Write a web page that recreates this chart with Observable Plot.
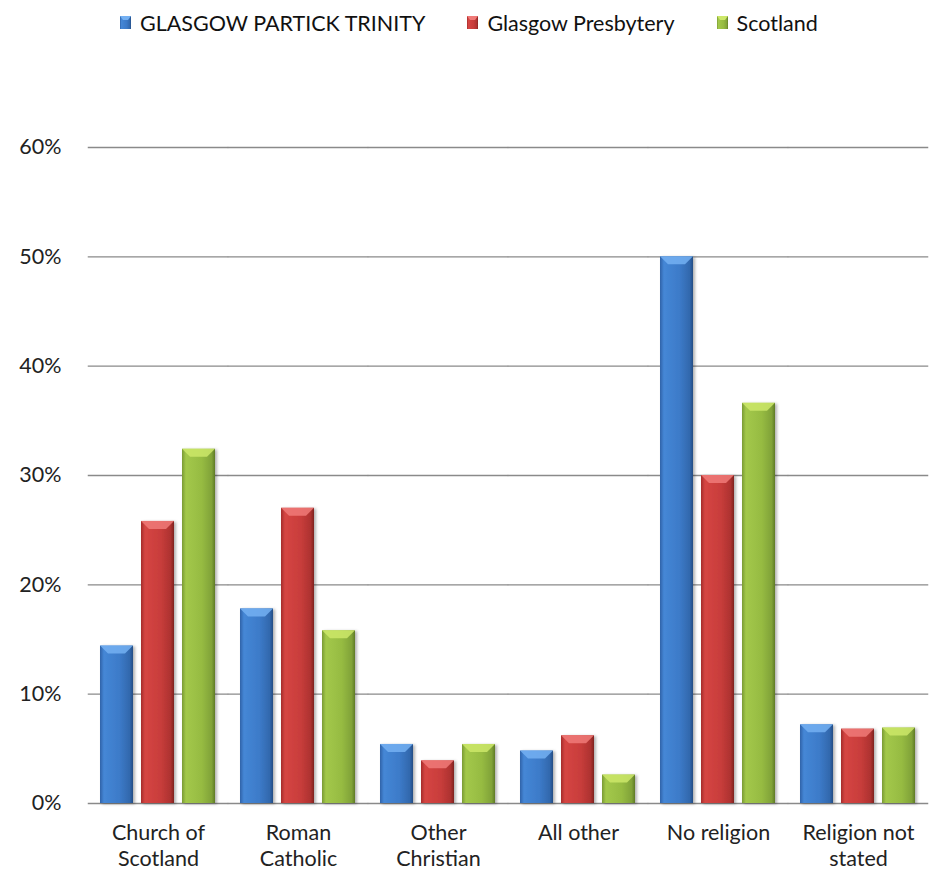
<!DOCTYPE html>
<html>
<head>
<meta charset="utf-8">
<script src="https://cdn.jsdelivr.net/npm/d3@7"></script>
<script src="https://cdn.jsdelivr.net/npm/@observablehq/plot@0.6"></script>
<style>
  body { margin: 0; background: #fff; font-family: Lato, "Open Sans", sans-serif; }
  #legend { height: 45px; display: flex; justify-content: flex-start; align-items: center; font-size: 21.5px; color: #111; padding-left: 120px; }
  .item { display: flex; align-items: center; margin-right: 42px; }
  .item svg { margin-right: 9px; }
</style>
</head>
<body>
<svg width="0" height="0" style="position:absolute">
  <defs>
    <linearGradient id="g0" x1="0" x2="1" y1="0" y2="0">
      <stop offset="0" stop-color="#2f62a8"/>
      <stop offset="0.12" stop-color="#4587d6"/>
      <stop offset="0.6" stop-color="#3c7ac8"/>
      <stop offset="0.9" stop-color="#3268ad"/>
      <stop offset="1" stop-color="#234d84"/>
    </linearGradient>
    <linearGradient id="g1" x1="0" x2="1" y1="0" y2="0">
      <stop offset="0" stop-color="#a42c2a"/>
      <stop offset="0.12" stop-color="#d54543"/>
      <stop offset="0.6" stop-color="#c83d3b"/>
      <stop offset="0.9" stop-color="#ad3230"/>
      <stop offset="1" stop-color="#7e2220"/>
    </linearGradient>
    <linearGradient id="g2" x1="0" x2="1" y1="0" y2="0">
      <stop offset="0" stop-color="#7a9a34"/>
      <stop offset="0.12" stop-color="#a3c84a"/>
      <stop offset="0.6" stop-color="#96bb42"/>
      <stop offset="0.9" stop-color="#80a238"/>
      <stop offset="1" stop-color="#5e7a26"/>
    </linearGradient>
    <filter id="shadow" x="-20%" y="-5%" width="150%" height="115%">
      <feDropShadow dx="2" dy="1" stdDeviation="1.5" flood-color="#000" flood-opacity="0.3"/>
    </filter>
  </defs>
</svg>
<div id="legend"></div>
<div id="chart"></div>
<script>
const categories = ["Church of\nScotland", "Roman\nCatholic", "Other\nChristian", "All other", "No religion", "Religion not\nstated"];
const seriesNames = ["GLASGOW PARTICK TRINITY", "Glasgow Presbytery", "Scotland"];
const partick = [0.144, 0.178, 0.054, 0.048, 0.500, 0.072];
const presbytery = [0.258, 0.270, 0.039, 0.062, 0.300, 0.068];
const scotland = [0.324, 0.158, 0.054, 0.026, 0.366, 0.069];
const yTicks = [0, 0.1, 0.2, 0.3, 0.4, 0.5, 0.6];

const fills = ["url(#g0)", "url(#g1)", "url(#g2)"];
const bevels = ["#74b0f2", "#f07a78", "#cde86a"];

const seriesValues = [partick, presbytery, scotland];
const data = [];
categories.forEach((c, i) => seriesNames.forEach((s, j) => data.push({category: c, series: s, value: seriesValues[j][i]})));

const W = 932, ML = 86, MR = 2, PI = 0.16, PO = 0.08;
const step = (W - ML - MR) / (categories.length - PI + 2 * PO);
const gap = step * PI / 2;
const FS = 21.5;

const plot = Plot.plot({
  width: W,
  height: 830,
  marginTop: 102,
  marginBottom: 72,
  marginLeft: ML,
  marginRight: MR,
  style: {fontFamily: "Lato, 'Open Sans', sans-serif", fontSize: FS + "px", color: "#222", background: "#fff"},
  fx: {domain: categories, paddingInner: PI, paddingOuter: PO, label: null, axis: null},
  x: {domain: seriesNames, paddingInner: 0.19, paddingOuter: 0, axis: null},
  y: {domain: [0, 0.6], label: null},
  color: {domain: seriesNames, range: fills},
  marks: [
    Plot.ruleY(yTicks, {stroke: "#8a8a8a", strokeWidth: 1.4, insetLeft: -gap, insetRight: -gap}),
    Plot.axisY({ticks: yTicks, tickSize: 0, tickPadding: 38, tickFormat: d3.format(".0%"), fontSize: FS, fill: "#222"}),
    Plot.axisFx({anchor: "bottom", tickSize: 0, tickPadding: 18, lineHeight: 1.21, fontSize: FS, fill: "#222", label: null}),
    Plot.barY(data, {fx: "category", x: "series", y: "value", fill: "series"})
  ]
});

document.getElementById("chart").appendChild(plot);

// bevel effect on top of each bar
const barGroups = plot.querySelectorAll('g[aria-label="bar"]');
barGroups.forEach(g => {
  g.setAttribute("filter", "url(#shadow)");
  g.querySelectorAll("rect").forEach(r => {
    const x = +r.getAttribute("x"), y = +r.getAttribute("y"), w = +r.getAttribute("width"), h = +r.getAttribute("height");
    const fill = r.getAttribute("fill");
    const idx = fills.indexOf(fill);
    const b = Math.min(8, h / 2);
    const p = document.createElementNS("http://www.w3.org/2000/svg", "polygon");
    p.setAttribute("points", `${x},${y} ${x + w},${y} ${x + w - b},${y + b} ${x + b},${y + b}`);
    p.setAttribute("fill", bevels[idx >= 0 ? idx : 0]);
    p.setAttribute("opacity", "0.85");
    r.parentNode.appendChild(p);
  });
});

// legend
const leg = document.getElementById("legend");
seriesNames.forEach((s, i) => {
  const item = document.createElement("div");
  item.className = "item";
  item.innerHTML = `<svg width="11" height="13"><rect x="0" y="0" width="11" height="13" fill="${fills[i]}"/><polygon points="0,0 11,0 8,4 3,4" fill="${bevels[i]}"/></svg><span>${s}</span>`;
  leg.appendChild(item);
});
</script>
</body>
</html>
